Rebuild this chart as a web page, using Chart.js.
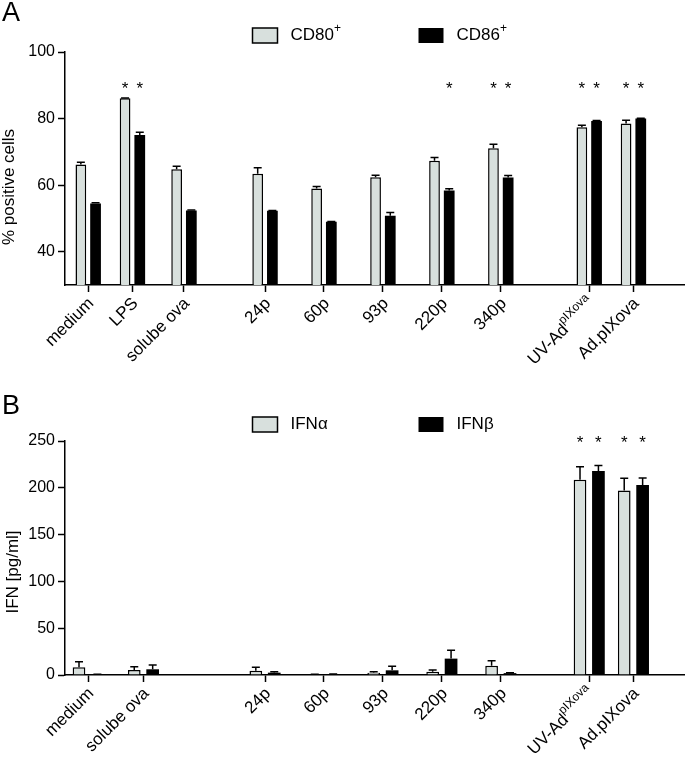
<!DOCTYPE html>
<html>
<head>
<meta charset="utf-8">
<script src="https://cdn.jsdelivr.net/npm/chart.js@4.4.1/dist/chart.umd.min.js"></script>
<style>
  html, body { margin: 0; padding: 0; background: #fff; overflow: hidden; }
  .panel { position: relative; width: 685px; }
  .panel canvas { display: block; }
  #wrapA { height: 385px; }
  #wrapB { height: 386px; }
</style>
</head>
<body>
<div class="panel" id="wrapA"><canvas id="chartA"></canvas></div>
<div class="panel" id="wrapB"><canvas id="chartB"></canvas></div>
<script>
// A - CD80 / CD86
const groupsA = ['medium', 'LPS', 'solube ova', '24p', '60p', '93p', '220p', '340p', 'UV-Ad^pIXova', 'Ad.pIXova'];
const gapsA = [0, 6, 7, 11, 8, 8, 8, 8, 12, 6];
const cd80 = [66.2, 86.1, 64.8, 63.4, 59.0, 62.4, 67.3, 71.1, 77.4, 78.5];
const cd80Err = [0.7, 0.1, 0.9, 1.8, 0.6, 0.6, 1.0, 1.2, 0.6, 1.0];
const cd86 = [54.5, 75.1, 52.4, 52.3, 49.0, 50.8, 58.4, 62.3, 79.3, 80.0];
const cd86Err = [0.2, 0.8, 0.1, 0.1, 0.1, 1.0, 0.5, 0.6, 0.1, 0.1];
const starsCd80 = [0, 1, 0, 0, 0, 0, 0, 1, 1, 1];
const starsCd86 = [0, 1, 0, 0, 0, 0, 1, 1, 1, 1];
const yTicksA = [40, 60, 80, 100];

// B - IFN
const groupsB = ['medium', 'solube ova', '24p', '60p', '93p', '220p', '340p', 'UV-Ad^pIXova', 'Ad.pIXova'];
const gapsB = [0, 7.5, 16.5, 8, 8, 8, 8, 12, 6];
const ifnA = [8.2, 5.3, 4.6, 0.5, 2.5, 3.6, 10.0, 208.6, 197.2];
const ifnAErr = [6.0, 3.6, 3.6, 0.3, 1.0, 1.7, 5.3, 14.0, 13.0];
const ifnB = [0.5, 6.1, 2.5, 0.8, 5.0, 17.5, 2.0, 217.9, 202.9];
const ifnBErr = [0.2, 4.6, 1.0, 0.3, 4.3, 9.0, 0.5, 6.0, 7.5];
const starsIfnA = [0, 0, 0, 0, 0, 0, 0, 1, 1];
const starsIfnB = [0, 0, 0, 0, 0, 0, 0, 1, 1];
const yTicksB = [0, 50, 100, 150, 200, 250];

const FONT = '"Liberation Sans", Arial, sans-serif';
const LIGHT = '#d8e0dd';

function slots(gaps) {
  let s = 0;
  return gaps.map(g => (s += g));
}
const posA = slots(gapsA);
const posB = slots(gapsB);

// text with an optional superscript part after '^'
function drawRich(ctx, text, x, y, size, align) {
  const parts = text.split('^');
  const supSize = Math.round(size * 0.68);
  ctx.font = size + 'px ' + FONT;
  const w1 = ctx.measureText(parts[0]).width;
  let w2 = 0;
  if (parts[1]) {
    ctx.font = supSize + 'px ' + FONT;
    w2 = ctx.measureText(parts[1]).width;
  }
  const x0 = align === 'right' ? x - w1 - w2 : x;
  ctx.textAlign = 'left';
  ctx.font = size + 'px ' + FONT;
  ctx.fillText(parts[0], x0, y);
  if (parts[1]) {
    ctx.font = supSize + 'px ' + FONT;
    ctx.fillText(parts[1], x0 + w1, y - size * 0.42);
  }
}

const errorBars = {
  id: 'errorBars',
  afterDatasetsDraw(chart) {
    const { ctx, scales: { y } } = chart;
    ctx.save();
    ctx.strokeStyle = '#000';
    ctx.lineWidth = 1.5;
    chart.data.datasets.forEach((ds, di) => {
      chart.getDatasetMeta(di).data.forEach((bar, i) => {
        const top = y.getPixelForValue(ds.data[i].y + ds.errors[i]);
        ctx.beginPath();
        ctx.moveTo(bar.x, bar.y);
        ctx.lineTo(bar.x, top);
        ctx.moveTo(bar.x - 4, top);
        ctx.lineTo(bar.x + 4, top);
        ctx.stroke();
      });
    });
    ctx.restore();
  }
};

const decor = {
  id: 'decor',
  afterDraw(chart, args, opts) {
    const { ctx, chartArea, scales: { x, y } } = chart;
    ctx.save();
    ctx.fillStyle = '#000';
    ctx.textBaseline = 'middle';

    // stars
    const starY = y.getPixelForValue(opts.starLevel);
    ctx.font = '17px ' + FONT;
    ctx.textAlign = 'center';
    chart.data.datasets.forEach((ds, di) => {
      chart.getDatasetMeta(di).data.forEach((bar, i) => {
        if (ds.stars[i]) ctx.fillText('*', bar.x, starY + 4);
      });
    });

    // category labels
    const ds0 = chart.data.datasets[0];
    opts.labels.forEach((lab, i) => {
      const px = x.getPixelForValue(ds0.data[i].x);
      ctx.save();
      ctx.translate(px + 3, x.top + 16);
      ctx.rotate(-Math.PI / 4);
      drawRich(ctx, lab, 0, 0, 17, 'right');
      ctx.restore();
    });

    // legend
    const boxX = [chartArea.left + 187.5, chartArea.left + 353.5];
    const legY = chartArea.top - 16.5;
    chart.data.datasets.forEach((ds, di) => {
      ctx.fillStyle = ds.backgroundColor;
      ctx.fillRect(boxX[di], legY - 7.5, 25, 15);
      if (ds.borderWidth) {
        ctx.strokeStyle = '#000';
        ctx.lineWidth = 1.5;
        ctx.strokeRect(boxX[di], legY - 7.5, 25, 15);
      }
      ctx.fillStyle = '#000';
      drawRich(ctx, ds.label, boxX[di] + 38, legY, 17, 'left');
    });

    // panel letter
    ctx.font = '27px ' + FONT;
    ctx.textAlign = 'left';
    ctx.textBaseline = 'top';
    ctx.fillText(opts.letter, 2, opts.letterY);

    // y title
    ctx.save();
    ctx.translate(opts.titleX, opts.titleY);
    ctx.rotate(-Math.PI / 2);
    ctx.font = '17px ' + FONT;
    ctx.textAlign = 'center';
    ctx.textBaseline = 'middle';
    ctx.fillText(opts.yTitle, 0, 0);
    ctx.restore();

    ctx.restore();
  }
};

function makeChart(id, cfg) {
  return new Chart(document.getElementById(id), {
    type: 'bar',
    data: {
      datasets: [
        {
          label: cfg.labels[0],
          data: cfg.s1.map((v, i) => ({ x: cfg.pos[i], y: v })),
          errors: cfg.e1,
          stars: cfg.st1,
          backgroundColor: LIGHT,
          borderColor: '#000',
          borderWidth: 1.5,
          categoryPercentage: cfg.catPct,
          barPercentage: cfg.barPct
        },
        {
          label: cfg.labels[1],
          data: cfg.s2.map((v, i) => ({ x: cfg.pos[i], y: v })),
          errors: cfg.e2,
          stars: cfg.st2,
          backgroundColor: '#000',
          borderColor: '#000',
          borderWidth: 0,
          categoryPercentage: cfg.catPct,
          barPercentage: cfg.barPct
        }
      ]
    },
    options: {
      responsive: true,
      maintainAspectRatio: false,
      animation: false,
      layout: { padding: { top: cfg.top, left: 0, right: 0, bottom: 0 } },
      plugins: {
        legend: { display: false },
        tooltip: { enabled: false },
        decor: {
          letter: cfg.letter, letterY: cfg.letterY,
          yTitle: cfg.yTitle, titleX: cfg.titleX, titleY: 187,
          labels: cfg.groups, starLevel: cfg.starLevel
        }
      },
      scales: {
        x: {
          type: 'linear',
          offset: false,
          bounds: 'data',
          min: -3.15,
          max: 81,
          afterBuildTicks: s => { s.ticks = cfg.pos.map(v => ({ value: v })); },
          afterFit: s => { s.height = cfg.xHeight; },
          grid: { offset: false, drawOnChartArea: false, tickLength: 7, tickWidth: 1.5, tickColor: '#000' },
          border: { color: '#000', width: 1.5 },
          ticks: { display: false }
        },
        y: {
          min: cfg.yMin,
          max: cfg.yMax,
          afterBuildTicks: s => { s.ticks = cfg.yTicks.map(v => ({ value: v })); },
          afterFit: s => { s.width = 65; },
          grid: { drawOnChartArea: false, tickLength: 7, tickWidth: 1.5, tickColor: '#000' },
          border: { color: '#000', width: 1.5 },
          ticks: { color: '#000', padding: 3, font: { size: 16, family: FONT } }
        }
      }
    },
    plugins: [errorBars, decor]
  });
}

makeChart('chartA', {
  labels: ['CD80^+', 'CD86^+'],
  groups: groupsA, pos: posA,
  s1: cd80, e1: cd80Err, st1: starsCd80,
  s2: cd86, e2: cd86Err, st2: starsCd86,
  yMin: 30, yMax: 100, yTicks: yTicksA,
  catPct: 0.665, barPct: 0.73,
  top: 52, xHeight: 100, starLevel: 90,
  letter: 'A', letterY: 0, yTitle: '% positive cells', titleX: 9
});

makeChart('chartB', {
  labels: ['IFNα', 'IFNβ'],
  groups: groupsB, pos: posB,
  s1: ifnA, e1: ifnAErr, st1: starsIfnA,
  s2: ifnB, e2: ifnBErr, st2: starsIfnB,
  yMin: 0, yMax: 250, yTicks: yTicksB,
  catPct: 0.833, barPct: 0.69,
  top: 56, xHeight: 96, starLevel: 252,
  letter: 'B', letterY: 8, yTitle: 'IFN [pg/ml]', titleX: 13
});
</script>
</body>
</html>
